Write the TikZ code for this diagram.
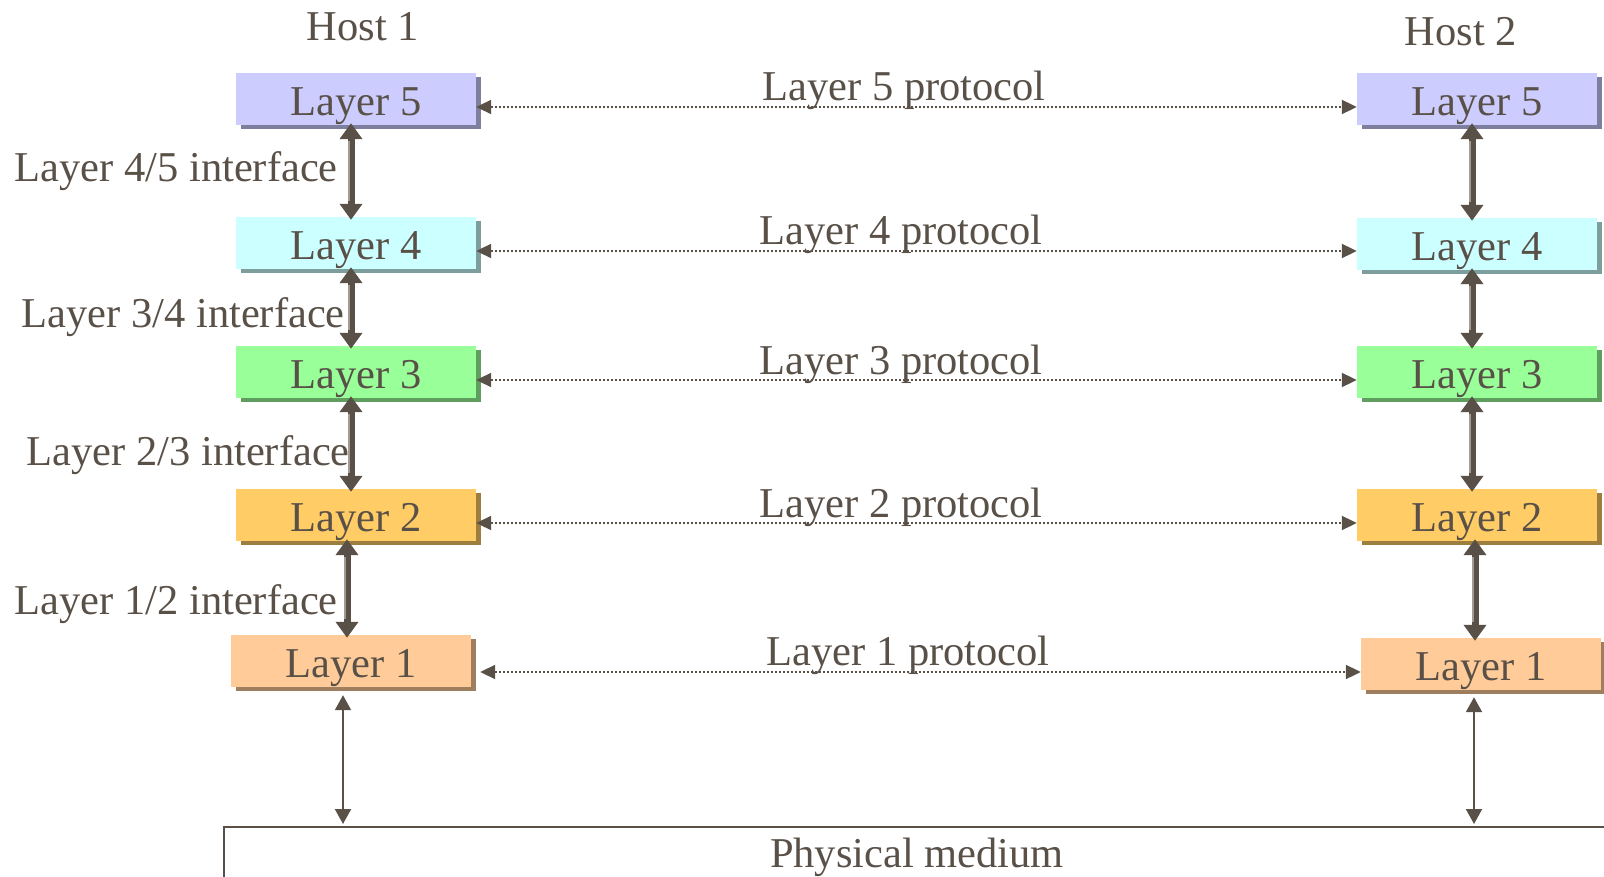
\documentclass[tikz,border=0pt]{standalone}
\usepackage{fontspec}
\setmainfont{Liberation Serif}
\usetikzlibrary{arrows.meta,shadows,calc}
\definecolor{txt}{HTML}{595048}
\definecolor{arr}{HTML}{595048}
\definecolor{arrlight}{HTML}{A39B93}
\definecolor{c5}{HTML}{CCCCFF}
\definecolor{c4}{HTML}{CCFFFF}
\definecolor{c3}{HTML}{99FF99}
\definecolor{c2}{HTML}{FFCC66}
\definecolor{c1}{HTML}{FFCC99}
\begin{document}
\begin{tikzpicture}[x=1pt,y=-1pt,
  bigfont/.style={font=\fontsize{42.5pt}{50pt}\selectfont},
  layerbox/.style={bigfont, fill=#1, minimum width=240pt, minimum height=52pt,
     inner sep=0pt, text=txt, text height=42pt, text depth=9pt,
     drop shadow={shadow xshift=5pt, shadow yshift=-4pt, fill=#1!62!black, opacity=1}},
  lbl/.style={bigfont, text=txt, inner sep=0pt},
  thickarr/.style={draw=arr, line width=7pt,
     arrows={Triangle[width=22pt,length=16pt]-Triangle[width=22pt,length=16pt]},
     shorten <=-2pt, shorten >=-3pt,
     postaction={draw=arrlight, line width=2.5pt, arrows=-, shorten <=16pt, shorten >=16pt,
       transform canvas={xshift=-2pt}}},
  thinarr/.style={draw=arr, line width=2pt,
     arrows={Triangle[width=16pt,length=15pt]-Triangle[width=16pt,length=15pt]}},
  protoarr/.style={draw=arr, line width=2pt, dash pattern=on 2pt off 2pt,
     arrows={Triangle[width=14pt,length=15pt]-Triangle[width=14pt,length=15pt]}}
]
\clip (0,0) rectangle (1604,877);

% host labels
\node[lbl, anchor=base] (h1) at (363,41) {Host 1};
\node[lbl, anchor=base] (h2) at (1461,46) {Host 2};

% layer boxes
\node[layerbox=c5] (L5) at (356,99) {Layer 5};
\node[layerbox=c4] (L4) at (356,243) {Layer 4};
\node[layerbox=c3] (L3) at (356,372) {Layer 3};
\node[layerbox=c2] (L2) at (356,515) {Layer 2};
\node[layerbox=c1] (L1) at (351,661) {Layer 1};

\node[layerbox=c5] (R5) at (1477,99) {Layer 5};
\node[layerbox=c4] (R4) at (1477,244) {Layer 4};
\node[layerbox=c3] (R3) at (1477,372) {Layer 3};
\node[layerbox=c2] (R2) at (1477,515) {Layer 2};
\node[layerbox=c1] (R1) at (1481,664) {Layer 1};

% physical medium
\coordinate (pm) at (917,827);
\draw[draw=arr, line width=2pt] (224,890) -- (pm -| 224,0) -- (pm -| 1620,0);
\node[lbl, anchor=base] (phys) at (917,867) {Physical medium};

% vertical interface arrows
\coordinate (a1) at (351,0);
\coordinate (a2) at (347,0);
\coordinate (b1) at (1472,0);
\coordinate (b2) at (1475,0);
\draw[thickarr] (L5.south -| a1) -- (L4.north -| a1);
\draw[thickarr] (L4.south -| a1) -- (L3.north -| a1);
\draw[thickarr] (L3.south -| a1) -- (L2.north -| a1);
\draw[thickarr] (L2.south -| a2) -- (L1.north -| a2);
\draw[thickarr] (R5.south -| b1) -- (R4.north -| b1);
\draw[thickarr] (R4.south -| b1) -- (R3.north -| b1);
\draw[thickarr] (R3.south -| b1) -- (R2.north -| b1);
\draw[thickarr] (R2.south -| b2) -- (R1.north -| b2);

% to physical medium
\coordinate (pl) at (343,0);
\coordinate (pr) at (1474,0);
\draw[thinarr, shorten <=8pt, shorten >=3pt] (L1.south -| pl) -- (pm -| pl);
\draw[thinarr, shorten <=7pt, shorten >=3pt] (R1.south -| pr) -- (pm -| pr);

% protocol arrows
\draw[protoarr] ([yshift=-8pt]L5.east) -- ([yshift=-8pt]R5.west);
\draw[protoarr] ([yshift=-8pt]L4.east) -- ([yshift=-8pt]L4.east -| R4.west);
\draw[protoarr] ([yshift=-8pt]L3.east) -- ([yshift=-8pt]R3.west);
\draw[protoarr] ([yshift=-8pt]L2.east) -- ([yshift=-8pt]R2.west);
\coordinate (l1a) at ([xshift=9pt,yshift=-11pt]L1.east);
\draw[protoarr] (l1a) -- (l1a -| R1.west);

% protocol labels
\node[lbl, anchor=base] (p5) at (904,101) {Layer 5 protocol};
\node[lbl, anchor=base] (p4) at (901,245) {Layer 4 protocol};
\node[lbl, anchor=base] (p3) at (901,374) {Layer 3 protocol};
\node[lbl, anchor=base] (p2) at (901,517) {Layer 2 protocol};
\node[lbl, anchor=base] (p1) at (908,665) {Layer 1 protocol};

% interface labels
\node[lbl, anchor=base east] (i45) at (338,182) {Layer 4/5 interface};
\node[lbl, anchor=base east] (i34) at (345,327) {Layer 3/4 interface};
\node[lbl, anchor=base east] (i23) at (350,465) {Layer 2/3 interface};
\node[lbl, anchor=base east] (i12) at (338,614) {Layer 1/2 interface};
\end{tikzpicture}
\end{document}
